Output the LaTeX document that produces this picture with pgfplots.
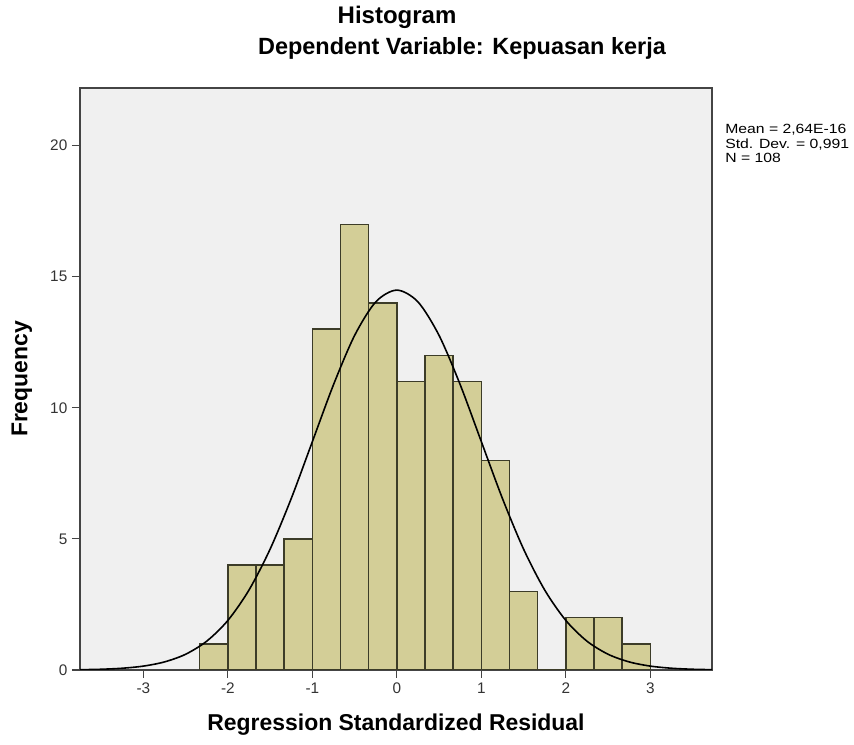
\documentclass[border=0pt]{standalone}
\usepackage{pgfplots}
\pgfplotsset{compat=1.18}
\usepackage{fontspec}
\setmainfont{Liberation Sans}
\definecolor{bgcol}{HTML}{F0F0F0}
\definecolor{barcol}{HTML}{D3CE97}
\definecolor{edgecol}{HTML}{3C3C28}
\definecolor{axcol}{HTML}{444444}
\begin{document}
\begin{tikzpicture}
\useasboundingbox (-60pt,-56.25pt) rectangle (580.5pt,502.5pt);
\begin{axis}[
  scale only axis,
  width=474pt, height=436.5pt,
  xmin=-3.75, xmax=3.73, ymin=0, ymax=22.2,
  xtick={-3,-2,-1,0,1,2,3},
  ytick={0,5,10,15,20},
  xtick pos=lower, ytick pos=left,
  tick align=outside,
  major tick length=6pt,
  tick style={color=axcol, line width=0.8pt},
  axis line style={color=axcol, line width=1pt},
  axis background/.style={fill=bgcol},
  /pgf/number format/assume math mode=true,
  tick label style={font=\fontsize{11.5}{13}\selectfont, color=black!80},
  xlabel={\bfseries Regression Standardized Residual},
  ylabel={\bfseries Frequency},
  xlabel style={font=\fontsize{17.2}{20}\selectfont, at={(axis description cs:0.5,-0.0945)}, anchor=center},
  ylabel style={font=\fontsize{17.2}{20}\selectfont, at={(axis description cs:-0.0918,0.5)}, anchor=center},
  clip mode=individual,
]
\addplot[ybar interval, fill=barcol, draw=edgecol, line width=1.1pt] coordinates {
(-2.3333,1) (-2.0,4) (-1.6667,4) (-1.3333,5) (-1.0,13) (-0.6667,17) (-0.3333,14)
(0.0,11) (0.3333,12) (0.6667,11) (1.0,8) (1.3333,3) (1.6667,0) (2.0,2) (2.3333,2)
(2.6667,1) (3.0,1)
};
\addplot[smooth, black, line width=1.2pt, mark=none] coordinates {
(-3.75,0.011) (-3.5,0.028) (-3.25,0.067) (-3,0.148) (-2.75,0.308) (-2.5,0.60)
(-2.25,1.10) (-2,1.89) (-1.75,3.05) (-1.5,4.61) (-1.25,6.54) (-1,8.71)
(-0.75,10.88) (-0.5,12.76) (-0.25,14.04) (0,14.49) (0.25,14.04) (0.5,12.76)
(0.75,10.88) (1,8.71) (1.25,6.54) (1.5,4.61) (1.75,3.05) (2,1.89) (2.25,1.10)
(2.5,0.60) (2.75,0.308) (3,0.148) (3.25,0.067) (3.5,0.028) (3.75,0.011)
};
\node[font=\fontsize{18}{21}\selectfont\bfseries, anchor=center] at (axis description cs:0.5016,1.122) {Histogram};
\node[font=\fontsize{17.6}{20}\selectfont\bfseries, anchor=center] at (axis description cs:0.6044,1.0687) {Dependent Variable: Kepuasan kerja};
\node[font=\fontsize{10}{10.8}\selectfont, anchor=north west, align=left, inner sep=0pt] at (axis description cs:1.0206,0.938) {\scalebox{1.18}[1]{Mean = 2,64E-16}\\\scalebox{1.18}[1]{Std. Dev. = 0,991}\\\scalebox{1.18}[1]{N = 108}};
\end{axis}
\end{tikzpicture}
\end{document}
